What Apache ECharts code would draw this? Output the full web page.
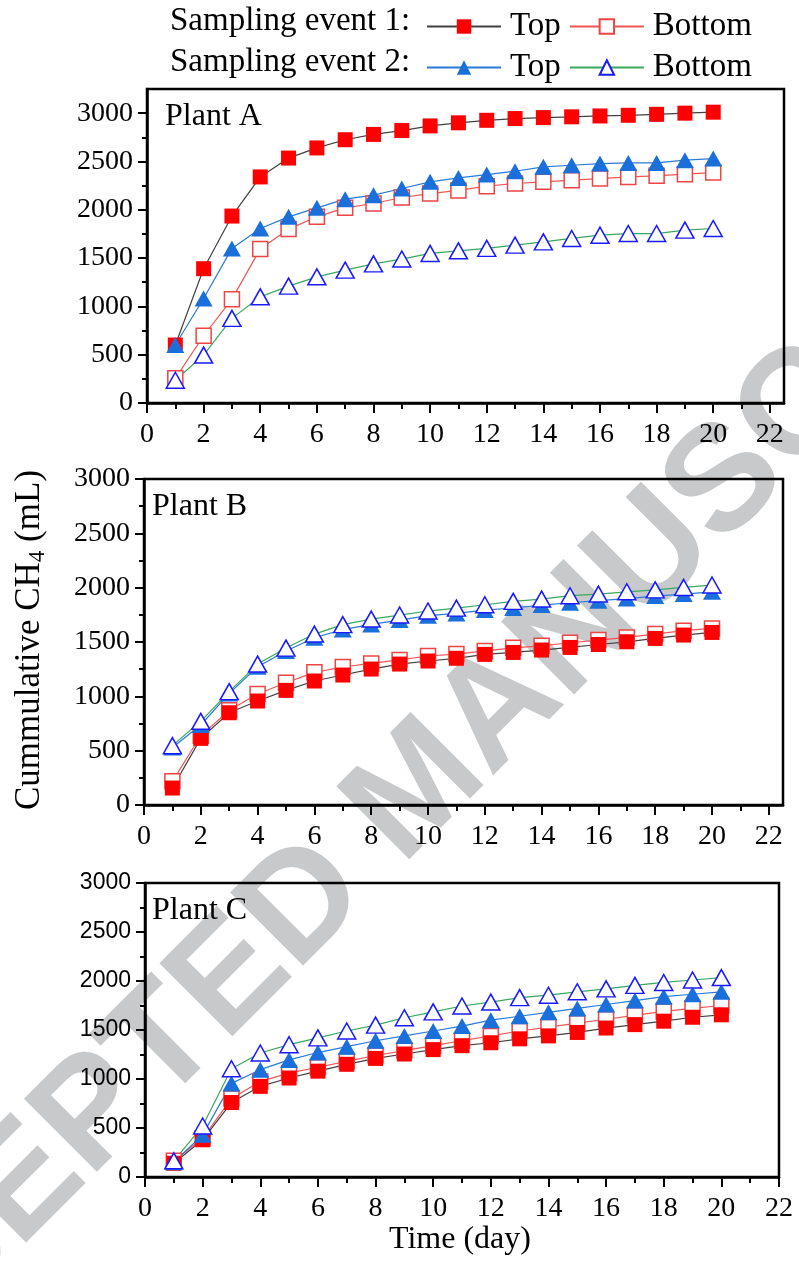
<!DOCTYPE html>
<html><head><meta charset="utf-8">
<script src="https://cdn.jsdelivr.net/npm/echarts@6/dist/echarts.min.js"></script>
<style>html,body{margin:0;padding:0;background:#fff}#c{width:799px;height:1288px}
.fp{position:absolute;left:-9999px;top:0;font-size:30px}</style>
</head><body>
<div class="fp" style="font-family:'Liberation Serif'">Preload 0123456789</div>
<div class="fp" style="font-family:'Liberation Sans'">Preload 0123456789</div>
<div id="c"></div>
<script>
// ---------- data ----------
const days = [1,2,3,4,5,6,7,8,9,10,11,12,13,14,15,16,17,18,19,20];
const xTickLabels = [0,2,4,6,8,10,12,14,16,18,20,22];
const yTickLabels = [0,500,1000,1500,2000,2500,3000];
const seriesNames = ['Sampling event 1 Top','Sampling event 1 Bottom','Sampling event 2 Top','Sampling event 2 Bottom'];
const plantLabels = ['Plant A','Plant B','Plant C'];

const plantA_e1Top    = [600,1390,1935,2340,2535,2640,2725,2780,2820,2868,2900,2926,2944,2954,2962,2971,2978,2988,3000,3010];
const plantA_e1Bottom = [255,696,1075,1595,1800,1927,2020,2065,2127,2168,2200,2244,2272,2289,2306,2323,2340,2351,2368,2385];
const plantA_e2Top    = [600,1082,1600,1806,1927,2020,2110,2151,2220,2289,2330,2364,2399,2444,2461,2478,2485,2485,2513,2530];
const plantA_e2Bottom = [235,496,876,1099,1210,1306,1375,1440,1490,1548,1575,1600,1634,1668,1703,1737,1754,1754,1789,1806];

const plantB_e1Top    = [156,613,849,957,1055,1141,1196,1251,1297,1325,1350,1386,1404,1426,1450,1477,1502,1533,1564,1588];
const plantB_e1Bottom = [218,637,871,1021,1125,1221,1270,1303,1335,1371,1389,1418,1446,1465,1493,1518,1542,1573,1604,1625];
const plantB_e2Top    = [530,736,1027,1272,1417,1539,1614,1662,1702,1742,1763,1794,1813,1840,1861,1880,1900,1923,1941,1962];
const plantB_e2Bottom = [546,770,1043,1297,1444,1573,1660,1711,1748,1785,1812,1843,1874,1895,1926,1941,1962,1980,2002,2024];

const plantC_e1Top    = [140,380,760,925,1010,1080,1150,1210,1255,1300,1340,1370,1410,1440,1475,1520,1555,1590,1630,1655];
const plantC_e1Bottom = [165,395,800,975,1060,1120,1180,1240,1290,1340,1390,1440,1490,1530,1570,1610,1650,1690,1720,1750];
const plantC_e2Top    = [150,430,955,1095,1195,1270,1330,1390,1440,1490,1540,1600,1640,1680,1720,1760,1800,1840,1865,1890];
const plantC_e2Bottom = [165,520,1105,1265,1350,1420,1490,1550,1625,1685,1745,1785,1830,1855,1890,1920,1955,1985,2010,2035];

// ---------- layout / style ----------
const SERIF = 'Liberation Serif';
const SANS = 'Liberation Sans';
const panels = [
  {grid:{left:147, top:89, width:637, height:314}, xmax:22.5, ymax:3250, yFont:SERIF, ySize:28, data:[plantA_e1Top,plantA_e1Bottom,plantA_e2Top,plantA_e2Bottom], labelPos:[165,117]},
  {grid:{left:144, top:479, width:639, height:326}, xmax:22.5, ymax:3000, yFont:SERIF, ySize:28, data:[plantB_e1Top,plantB_e1Bottom,plantB_e2Top,plantB_e2Bottom], labelPos:[152,507]},
  {grid:{left:145, top:883, width:634, height:294}, xmax:22, ymax:3000, yFont:SANS, ySize:23, data:[plantC_e1Top,plantC_e1Bottom,plantC_e2Top,plantC_e2Bottom], labelPos:[152,911]}
];
const minorX = xTickLabels.slice(0,-1).map((v,i)=>(v+xTickLabels[i+1])/2);
const minorY = yTickLabels.slice(0,-1).map((v,i)=>(v+yTickLabels[i+1])/2);

const styles = [
  {symbol:'rect', symbolSize:15, line:'#404040', item:{color:'#ff0000', borderWidth:0}},
  {symbol:'rect', symbolSize:15, line:'#f05555', item:{color:'#ffffff', borderColor:'#ee4444', borderWidth:1.5}},
  {symbol:'triangle', symbolSize:[18,16], line:'#2a7ad8', item:{color:'#1a6fdb', borderWidth:0}},
  {symbol:'triangle', symbolSize:[18,16], line:'#3aa85c', item:{color:'#ffffff', borderColor:'#1a1aff', borderWidth:1.5}}
];
const drawOrder = [1,0,2,3];

const axisLineStyle = {color:'#000', width:2.5};
const tickStyle = {color:'#000', width:2};
const plain = v => String(v);

function buildOption(){
  const grids=[], xAxes=[], yAxes=[], series=[];
  panels.forEach((p,g)=>{
    grids.push(Object.assign({show:true, borderColor:'#000', borderWidth:2.5, backgroundColor:'transparent'}, p.grid));
    xAxes.push({gridIndex:g, type:'value', min:0, max:p.xmax, position:'bottom',
      axisLine:{show:true, onZero:false, lineStyle:axisLineStyle},
      axisTick:{show:true, customValues:xTickLabels, length:10, lineStyle:tickStyle},
      axisLabel:{customValues:xTickLabels, formatter:plain, fontFamily:SERIF, fontSize:28, color:'#000', margin:18},
      splitLine:{show:false}});
    xAxes.push({gridIndex:g, type:'value', min:0, max:p.xmax, position:'bottom',
      axisLine:{show:false}, axisTick:{show:true, customValues:minorX, length:6, lineStyle:tickStyle},
      axisLabel:{show:false}, splitLine:{show:false}});
    yAxes.push({gridIndex:g, type:'value', min:0, max:p.ymax, position:'left',
      axisLine:{show:true, onZero:false, lineStyle:axisLineStyle},
      axisTick:{show:true, customValues:yTickLabels, length:9, lineStyle:tickStyle},
      axisLabel:{customValues:yTickLabels, formatter:plain, fontFamily:p.yFont, fontSize:p.ySize, color:'#000', margin:14},
      splitLine:{show:false}});
    yAxes.push({gridIndex:g, type:'value', min:0, max:p.ymax, position:'left',
      axisLine:{show:false}, axisTick:{show:true, customValues:minorY, length:5, lineStyle:tickStyle},
      axisLabel:{show:false}, splitLine:{show:false}});
    drawOrder.forEach(k=>{
      const s = styles[k];
      series.push({type:'line', name:seriesNames[k], xAxisIndex:2*g, yAxisIndex:2*g,
        data: days.map((d,i)=>[d, p.data[k][i]]),
        symbol:s.symbol, symbolSize:s.symbolSize, showAllSymbol:true,
        lineStyle:{color:s.line, width:1.2}, itemStyle:s.item,
        emphasis:{disabled:true}, silent:true});
    });
  });

  const graphics = [
    {type:'text', x:420, y:790, rotation:45*Math.PI/180, z:-10, silent:true,
     style:{text:'ACCEPTED MANUSCRIPT', fontFamily:SANS, fontWeight:'bold', fontSize:150, fill:'#c8c9ca', align:'center', verticalAlign:'middle'}},
    {type:'text', x:170, y:21, style:{text:'Sampling event 1:', fontFamily:SERIF, fontSize:33, fill:'#000', align:'left', verticalAlign:'middle'}},
    {type:'text', x:170, y:62, style:{text:'Sampling event 2:', fontFamily:SERIF, fontSize:33, fill:'#000', align:'left', verticalAlign:'middle'}},
    {type:'text', x:30, y:640, rotation:Math.PI/2,
     style:{text:'Cummulative CH{sub|4} (mL)', fontFamily:SERIF, fontSize:35, fill:'#000', align:'center', verticalAlign:'middle',
       rich:{sub:{fontSize:23, fontFamily:SERIF, padding:[16,0,0,0], fill:'#000'}}}},
    {type:'text', x:460, y:1240, style:{text:'Time (day)', fontFamily:SERIF, fontSize:32, fill:'#000', align:'center', verticalAlign:'middle'}}
  ];
  panels.forEach((p,g)=>{
    graphics.push({type:'text', x:p.labelPos[0], y:p.labelPos[1], style:{text:plantLabels[g], fontFamily:SERIF, fontSize:32, fill:'#000', align:'left', verticalAlign:'middle'}});
  });

  const legendCommon = {itemWidth:74, itemHeight:18, itemGap:8,
    formatter: n => n.endsWith('Top') ? 'Top' : 'Bottom',
    textStyle:{fontFamily:SERIF, fontSize:33, color:'#000', padding:[0,0,0,4]}, selectedMode:false};
  const legends = [
    Object.assign({left:421, top:5, data:[seriesNames[0], seriesNames[1]]}, legendCommon),
    Object.assign({left:421, top:46, data:[seriesNames[2], seriesNames[3]]}, legendCommon)
  ];
  return {animation:false, backgroundColor:'#fff',
    grid:grids, xAxis:xAxes, yAxis:yAxes, series:series, legend:legends, graphic:graphics};
}

document.querySelectorAll('.fp').forEach(e=>e.offsetWidth);
const chart = echarts.init(document.getElementById('c'), null, {renderer:'canvas'});
chart.setOption(buildOption());
function redraw(){ chart.clear(); chart.setOption(buildOption(), true); }
if (document.fonts && document.fonts.load) {
  Promise.all([document.fonts.load('28px "Liberation Serif"'), document.fonts.load('28px "Liberation Sans"'), document.fonts.load('bold 28px "Liberation Sans"')])
    .then(redraw, redraw);
}
setTimeout(redraw, 150);
</script></body></html>
